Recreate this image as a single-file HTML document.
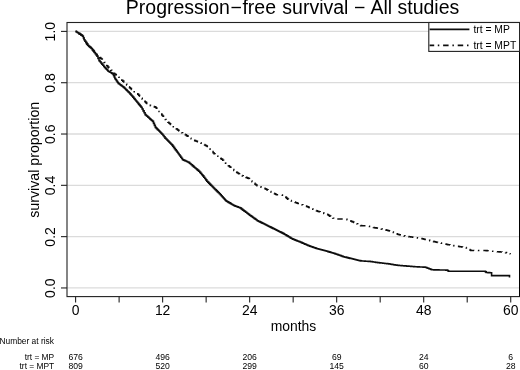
<!DOCTYPE html>
<html><head><meta charset="utf-8"><title>PFS</title>
<style>
html,body{margin:0;padding:0;background:#fff;}
body{width:520px;height:370px;overflow:hidden;}
svg{display:block;}
text{font-family:"Liberation Sans",sans-serif;fill:#000;}
</style></head><body>
<svg width="520" height="370" viewBox="0 0 520 370">
<defs><filter id="soft" filterUnits="userSpaceOnUse" x="-20" y="-20" width="560" height="410"><feGaussianBlur stdDeviation="0.35"/></filter></defs>
<rect x="-20" y="-20" width="560" height="410" fill="#fff"/>
<g filter="url(#soft)">
<rect x="-20" y="-20" width="560" height="410" fill="#fff"/>

<line x1="67" x2="519.6" y1="287.95" y2="287.95" stroke="#dbdbdb" stroke-width="1.3"/>
<line x1="67" x2="519.6" y1="236.64" y2="236.64" stroke="#dbdbdb" stroke-width="1.3"/>
<line x1="67" x2="519.6" y1="185.33" y2="185.33" stroke="#dbdbdb" stroke-width="1.3"/>
<line x1="67" x2="519.6" y1="134.02" y2="134.02" stroke="#dbdbdb" stroke-width="1.3"/>
<line x1="67" x2="519.6" y1="82.71" y2="82.71" stroke="#dbdbdb" stroke-width="1.3"/>
<line x1="67" x2="519.6" y1="31.4" y2="31.4" stroke="#dbdbdb" stroke-width="1.3"/>
<polyline points="75.50,31.40 76.38,31.40 76.38,31.95 77.25,31.95 77.25,32.50 78.12,32.50 78.12,33.05 79.00,33.05 79.00,33.60 79.95,33.60 79.95,34.25 80.90,34.25 80.90,34.90 81.85,34.90 81.85,35.55 82.80,35.55 82.80,36.20 83.40,36.20 83.40,38.00 84.00,38.00 84.00,39.80 84.90,39.80 84.90,41.17 85.80,41.17 85.80,42.55 86.70,42.55 86.70,43.92 87.60,43.92 87.60,45.30 88.60,45.30 88.60,46.17 89.60,46.17 89.60,47.05 90.60,47.05 90.60,47.92 91.60,47.92 91.60,48.80 92.50,48.80 92.50,49.92 93.40,49.92 93.40,51.03 94.30,51.03 94.30,52.15 95.20,52.15 95.20,53.27 96.10,53.27 96.10,54.38 97.00,54.38 97.00,55.50 97.88,55.50 97.88,56.20 98.76,56.20 98.76,56.90 99.64,56.90 99.64,57.60 100.52,57.60 100.52,58.30 101.40,58.30 101.40,59.00 102.30,59.00 102.30,60.13 103.20,60.13 103.20,61.27 104.10,61.27 104.10,62.40 105.00,62.40 105.00,63.53 105.90,63.53 105.90,64.67 106.80,64.67 106.80,65.80 107.80,65.80 107.80,66.93 108.80,66.93 108.80,68.07 109.80,68.07 109.80,69.20 110.80,69.20 110.80,70.33 111.80,70.33 111.80,71.47 112.80,71.47 112.80,72.60 113.67,72.60 113.67,73.27 114.54,73.27 114.54,73.94 115.41,73.94 115.41,74.61 116.29,74.61 116.29,75.29 117.16,75.29 117.16,75.96 118.03,75.96 118.03,76.63 118.90,76.63 118.90,77.30 119.87,77.30 119.87,78.26 120.84,78.26 120.84,79.21 121.81,79.21 121.81,80.17 122.79,80.17 122.79,81.13 123.76,81.13 123.76,82.09 124.73,82.09 124.73,83.04 125.70,83.04 125.70,84.00 126.66,84.00 126.66,84.91 127.61,84.91 127.61,85.83 128.57,85.83 128.57,86.74 129.53,86.74 129.53,87.66 130.49,87.66 130.49,88.57 131.44,88.57 131.44,89.49 132.40,89.49 132.40,90.40 133.30,90.40 133.30,91.05 134.20,91.05 134.20,91.70 135.10,91.70 135.10,92.35 136.00,92.35 136.00,93.00 136.90,93.00 136.90,93.65 137.80,93.65 137.80,94.30 138.68,94.30 138.68,95.28 139.57,95.28 139.57,96.27 140.45,96.27 140.45,97.25 141.33,97.25 141.33,98.23 142.22,98.23 142.22,99.22 143.10,99.22 143.10,100.20 144.00,100.20 144.00,101.00 144.90,101.00 144.90,101.80 145.80,101.80 145.80,102.60 146.70,102.60 146.70,103.40 147.60,103.40 147.60,104.20 148.50,104.20 148.50,105.00 149.47,105.00 149.47,105.31 150.44,105.31 150.44,105.63 151.41,105.63 151.41,105.94 152.39,105.94 152.39,106.26 153.36,106.26 153.36,106.57 154.33,106.57 154.33,106.89 155.30,106.89 155.30,107.20 156.24,107.20 156.24,108.28 157.18,108.28 157.18,109.36 158.12,109.36 158.12,110.44 159.06,110.44 159.06,111.52 160.00,111.52 160.00,112.60 160.87,112.60 160.87,113.76 161.74,113.76 161.74,114.91 162.61,114.91 162.61,116.07 163.49,116.07 163.49,117.23 164.36,117.23 164.36,118.39 165.23,118.39 165.23,119.54 166.10,119.54 166.10,120.70 167.00,120.70 167.00,121.44 167.90,121.44 167.90,122.19 168.80,122.19 168.80,122.93 169.70,122.93 169.70,123.68 170.60,123.68 170.60,124.42 171.50,124.42 171.50,125.17 172.40,125.17 172.40,125.91 173.30,125.91 173.30,126.66 174.20,126.66 174.20,127.40 175.15,127.40 175.15,128.10 176.10,128.10 176.10,128.80 177.05,128.80 177.05,129.50 178.00,129.50 178.00,130.20 178.95,130.20 178.95,130.90 179.90,130.90 179.90,131.60 180.80,131.60 180.80,132.13 181.70,132.13 181.70,132.67 182.60,132.67 182.60,133.20 183.50,133.20 183.50,133.73 184.40,133.73 184.40,134.27 185.30,134.27 185.30,134.80 186.26,134.80 186.26,135.47 187.21,135.47 187.21,136.14 188.17,136.14 188.17,136.81 189.13,136.81 189.13,137.49 190.09,137.49 190.09,138.16 191.04,138.16 191.04,138.83 192.00,138.83 192.00,139.50 192.90,139.50 192.90,139.87 193.80,139.87 193.80,140.23 194.70,140.23 194.70,140.60 195.60,140.60 195.60,140.97 196.50,140.97 196.50,141.33 197.40,141.33 197.40,141.70 198.30,141.70 198.30,142.07 199.20,142.07 199.20,142.43 200.10,142.43 200.10,142.80 201.00,142.80 201.00,143.26 201.90,143.26 201.90,143.71 202.80,143.71 202.80,144.17 203.70,144.17 203.70,144.62 204.60,144.62 204.60,145.08 205.50,145.08 205.50,145.53 206.40,145.53 206.40,145.99 207.30,145.99 207.30,146.44 208.20,146.44 208.20,146.90 209.17,146.90 209.17,148.06 210.14,148.06 210.14,149.21 211.11,149.21 211.11,150.37 212.09,150.37 212.09,151.53 213.06,151.53 213.06,152.69 214.03,152.69 214.03,153.84 215.00,153.84 215.00,155.00 215.97,155.00 215.97,155.61 216.94,155.61 216.94,156.23 217.91,156.23 217.91,156.84 218.89,156.84 218.89,157.46 219.86,157.46 219.86,158.07 220.83,158.07 220.83,158.69 221.80,158.69 221.80,159.30 222.73,159.30 222.73,160.25 223.67,160.25 223.67,161.20 224.60,161.20 224.60,162.15 225.53,162.15 225.53,163.10 226.47,163.10 226.47,164.05 227.40,164.05 227.40,165.00 228.31,165.00 228.31,165.77 229.23,165.77 229.23,166.54 230.14,166.54 230.14,167.31 231.06,167.31 231.06,168.09 231.97,168.09 231.97,168.86 232.89,168.86 232.89,169.63 233.80,169.63 233.80,170.40 234.76,170.40 234.76,171.07 235.71,171.07 235.71,171.74 236.67,171.74 236.67,172.41 237.63,172.41 237.63,173.09 238.59,173.09 238.59,173.76 239.54,173.76 239.54,174.43 240.50,174.43 240.50,175.10 241.40,175.10 241.40,175.48 242.30,175.48 242.30,175.86 243.20,175.86 243.20,176.23 244.10,176.23 244.10,176.61 245.00,176.61 245.00,176.99 245.90,176.99 245.90,177.37 246.80,177.37 246.80,177.74 247.70,177.74 247.70,178.12 248.60,178.12 248.60,178.50 249.45,178.50 249.45,179.30 250.30,179.30 250.30,180.10 251.15,180.10 251.15,180.90 252.00,180.90 252.00,181.70 253.00,181.70 253.00,182.52 254.00,182.52 254.00,183.34 255.00,183.34 255.00,184.16 256.00,184.16 256.00,184.98 257.00,184.98 257.00,185.80 258.00,185.80 258.00,186.16 259.00,186.16 259.00,186.51 260.00,186.51 260.00,186.87 261.00,186.87 261.00,187.23 262.00,187.23 262.00,187.59 263.00,187.59 263.00,187.94 264.00,187.94 264.00,188.30 265.00,188.30 265.00,188.82 266.00,188.82 266.00,189.33 267.00,189.33 267.00,189.85 268.00,189.85 268.00,190.37 269.00,190.37 269.00,190.88 270.00,190.88 270.00,191.40 270.90,191.40 270.90,191.87 271.80,191.87 271.80,192.34 272.70,192.34 272.70,192.81 273.60,192.81 273.60,193.29 274.50,193.29 274.50,193.76 275.40,193.76 275.40,194.23 276.30,194.23 276.30,194.70 277.30,194.70 277.30,194.77 278.30,194.77 278.30,194.84 279.30,194.84 279.30,194.91 280.30,194.91 280.30,194.99 281.30,194.99 281.30,195.06 282.30,195.06 282.30,195.13 283.30,195.13 283.30,195.20 284.15,195.20 284.15,195.98 285.00,195.98 285.00,196.77 285.85,196.77 285.85,197.55 286.70,197.55 286.70,198.33 287.55,198.33 287.55,199.12 288.40,199.12 288.40,199.90 289.37,199.90 289.37,200.27 290.33,200.27 290.33,200.63 291.30,200.63 291.30,201.00 292.27,201.00 292.27,201.37 293.23,201.37 293.23,201.73 294.20,201.73 294.20,202.10 295.17,202.10 295.17,202.47 296.13,202.47 296.13,202.83 297.10,202.83 297.10,203.20 298.06,203.20 298.06,203.51 299.01,203.51 299.01,203.82 299.97,203.82 299.97,204.13 300.92,204.13 300.92,204.44 301.88,204.44 301.88,204.76 302.83,204.76 302.83,205.07 303.79,205.07 303.79,205.38 304.74,205.38 304.74,205.69 305.70,205.69 305.70,206.00 306.58,206.00 306.58,206.42 307.47,206.42 307.47,206.83 308.35,206.83 308.35,207.25 309.23,207.25 309.23,207.67 310.12,207.67 310.12,208.08 311.00,208.08 311.00,208.50 311.90,208.50 311.90,208.89 312.80,208.89 312.80,209.27 313.70,209.27 313.70,209.66 314.60,209.66 314.60,210.04 315.50,210.04 315.50,210.43 316.40,210.43 316.40,210.81 317.30,210.81 317.30,211.20 318.25,211.20 318.25,211.52 319.19,211.52 319.19,211.84 320.14,211.84 320.14,212.15 321.08,212.15 321.08,212.47 322.03,212.47 322.03,212.79 322.97,212.79 322.97,213.11 323.92,213.11 323.92,213.43 324.86,213.43 324.86,213.75 325.81,213.75 325.81,214.06 326.75,214.06 326.75,214.38 327.70,214.38 327.70,214.70 328.70,214.70 328.70,215.42 329.70,215.42 329.70,216.13 330.70,216.13 330.70,216.85 331.70,216.85 331.70,217.57 332.70,217.57 332.70,218.28 333.70,218.28 333.70,219.00 345.00,219.00 345.99,219.00 345.99,219.37 346.97,219.37 346.97,219.74 347.96,219.74 347.96,220.11 348.94,220.11 348.94,220.49 349.93,220.49 349.93,220.86 350.91,220.86 350.91,221.23 351.90,221.23 351.90,221.60 352.87,221.60 352.87,222.04 353.83,222.04 353.83,222.49 354.80,222.49 354.80,222.93 355.77,222.93 355.77,223.38 356.73,223.38 356.73,223.82 357.70,223.82 357.70,224.27 358.67,224.27 358.67,224.71 359.63,224.71 359.63,225.16 360.60,225.16 360.60,225.60 361.59,225.60 361.59,225.66 362.57,225.66 362.57,225.71 363.56,225.71 363.56,225.77 364.54,225.77 364.54,225.83 365.53,225.83 365.53,225.89 366.51,225.89 366.51,225.94 367.50,225.94 367.50,226.00 368.49,226.00 368.49,226.24 369.47,226.24 369.47,226.49 370.46,226.49 370.46,226.73 371.44,226.73 371.44,226.97 372.43,226.97 372.43,227.21 373.41,227.21 373.41,227.46 374.40,227.46 374.40,227.70 375.38,227.70 375.38,227.89 376.36,227.89 376.36,228.08 377.33,228.08 377.33,228.27 378.31,228.27 378.31,228.46 379.29,228.46 379.29,228.64 380.27,228.64 380.27,228.83 381.24,228.83 381.24,229.02 382.22,229.02 382.22,229.21 383.20,229.21 383.20,229.40 384.10,229.40 384.10,229.62 385.00,229.62 385.00,229.85 385.90,229.85 385.90,230.07 386.80,230.07 386.80,230.30 387.70,230.30 387.70,230.53 388.60,230.53 388.60,230.75 389.50,230.75 389.50,230.97 390.40,230.97 390.40,231.20 391.39,231.20 391.39,231.63 392.37,231.63 392.37,232.06 393.36,232.06 393.36,232.49 394.34,232.49 394.34,232.91 395.33,232.91 395.33,233.34 396.31,233.34 396.31,233.77 397.30,233.77 397.30,234.20 398.27,234.20 398.27,234.44 399.23,234.44 399.23,234.69 400.20,234.69 400.20,234.93 401.17,234.93 401.17,235.18 402.13,235.18 402.13,235.42 403.10,235.42 403.10,235.67 404.07,235.67 404.07,235.91 405.03,235.91 405.03,236.16 406.00,236.16 406.00,236.40 406.96,236.40 406.96,236.50 407.91,236.50 407.91,236.60 408.87,236.60 408.87,236.70 409.82,236.70 409.82,236.80 410.78,236.80 410.78,236.90 411.73,236.90 411.73,237.00 412.69,237.00 412.69,237.10 413.64,237.10 413.64,237.20 414.60,237.20 414.60,237.30 415.55,237.30 415.55,237.49 416.49,237.49 416.49,237.68 417.44,237.68 417.44,237.87 418.38,237.87 418.38,238.06 419.33,238.06 419.33,238.25 420.27,238.25 420.27,238.45 421.22,238.45 421.22,238.64 422.16,238.64 422.16,238.83 423.11,238.83 423.11,239.02 424.05,239.02 424.05,239.21 425.00,239.21 425.00,239.40 425.96,239.40 425.96,239.64 426.91,239.64 426.91,239.89 427.87,239.89 427.87,240.13 428.82,240.13 428.82,240.38 429.78,240.38 429.78,240.62 430.73,240.62 430.73,240.87 431.69,240.87 431.69,241.11 432.64,241.11 432.64,241.36 433.60,241.36 433.60,241.60 434.57,241.60 434.57,241.81 435.53,241.81 435.53,242.02 436.50,242.02 436.50,242.23 437.47,242.23 437.47,242.44 438.43,242.44 438.43,242.66 439.40,242.66 439.40,242.87 440.37,242.87 440.37,243.08 441.33,243.08 441.33,243.29 442.30,243.29 442.30,243.50 443.25,243.50 443.25,243.69 444.19,243.69 444.19,243.88 445.14,243.88 445.14,244.07 446.08,244.07 446.08,244.26 447.03,244.26 447.03,244.45 447.97,244.45 447.97,244.65 448.92,244.65 448.92,244.84 449.86,244.84 449.86,245.03 450.81,245.03 450.81,245.22 451.75,245.22 451.75,245.41 452.70,245.41 452.70,245.60 453.69,245.60 453.69,245.76 454.68,245.76 454.68,245.91 455.67,245.91 455.67,246.07 456.66,246.07 456.66,246.22 457.64,246.22 457.64,246.38 458.63,246.38 458.63,246.53 459.62,246.53 459.62,246.69 460.61,246.69 460.61,246.84 461.60,246.84 461.60,247.00 462.55,247.00 462.55,247.12 463.50,247.12 463.50,247.25 464.45,247.25 464.45,247.38 465.40,247.38 465.40,247.50 466.30,247.50 466.30,247.98 467.20,247.98 467.20,248.47 468.10,248.47 468.10,248.95 469.00,248.95 469.00,249.43 469.90,249.43 469.90,249.92 470.80,249.92 470.80,250.40 471.76,250.40 471.76,250.41 472.73,250.41 472.73,250.43 473.69,250.43 473.69,250.44 474.65,250.44 474.65,250.45 475.61,250.45 475.61,250.46 476.57,250.46 476.57,250.47 477.54,250.47 477.54,250.49 478.50,250.49 478.50,250.50 479.46,250.50 479.46,250.51 480.43,250.51 480.43,250.53 481.39,250.53 481.39,250.54 482.35,250.54 482.35,250.55 483.31,250.55 483.31,250.56 484.27,250.56 484.27,250.57 485.24,250.57 485.24,250.59 486.20,250.59 486.20,250.60 487.13,250.60 487.13,250.70 488.06,250.70 488.06,250.80 488.99,250.80 488.99,250.90 489.92,250.90 489.92,251.00 490.85,251.00 490.85,251.10 491.78,251.10 491.78,251.20 492.71,251.20 492.71,251.30 493.64,251.30 493.64,251.40 494.57,251.40 494.57,251.50 495.50,251.50 495.50,251.60 496.42,251.60 496.42,251.67 497.34,251.67 497.34,251.74 498.26,251.74 498.26,251.81 499.18,251.81 499.18,251.88 500.10,251.88 500.10,251.95 501.02,251.95 501.02,252.02 501.94,252.02 501.94,252.09 502.86,252.09 502.86,252.16 503.78,252.16 503.78,252.23 504.70,252.23 504.70,252.30 505.60,252.30 505.60,252.62 506.50,252.62 506.50,252.93 507.40,252.93 507.40,253.25 508.30,253.25 508.30,253.57 509.20,253.57 509.20,253.88 510.10,253.88 510.10,254.20" fill="none" stroke="#111" stroke-width="1.55" stroke-dasharray="1.4 4 5.4 4" stroke-linejoin="miter"/>
<polyline points="75.50,31.40 76.38,31.40 76.38,31.95 77.25,31.95 77.25,32.50 78.12,32.50 78.12,33.05 79.00,33.05 79.00,33.60 79.95,33.60 79.95,34.25 80.90,34.25 80.90,34.90 81.85,34.90 81.85,35.55 82.80,35.55 82.80,36.20 83.40,36.20 83.40,38.00 84.00,38.00 84.00,39.80 84.90,39.80 84.90,41.17 85.80,41.17 85.80,42.55 86.70,42.55 86.70,43.92 87.60,43.92 87.60,45.30 88.60,45.30 88.60,46.17 89.60,46.17 89.60,47.05 90.60,47.05 90.60,47.92 91.60,47.92 91.60,48.80 92.50,48.80 92.50,50.02 93.40,50.02 93.40,51.23 94.30,51.23 94.30,52.45 95.20,52.45 95.20,53.67 96.10,53.67 96.10,54.88 97.00,54.88 97.00,56.10 98.00,56.10 98.00,58.35 99.00,58.35 99.00,60.60 99.96,60.60 99.96,61.78 100.92,61.78 100.92,62.96 101.88,62.96 101.88,64.14 102.84,64.14 102.84,65.32 103.80,65.32 103.80,66.50 104.66,66.50 104.66,67.44 105.52,67.44 105.52,68.38 106.38,68.38 106.38,69.32 107.24,69.32 107.24,70.26 108.10,70.26 108.10,71.20 109.04,71.20 109.04,71.74 109.98,71.74 109.98,72.28 110.92,72.28 110.92,72.82 111.86,72.82 111.86,73.36 112.80,73.36 112.80,73.90 113.50,73.90 113.50,75.47 114.20,75.47 114.20,77.03 114.90,77.03 114.90,78.60 115.73,78.60 115.73,79.80 116.55,79.80 116.55,81.00 117.38,81.00 117.38,82.20 118.20,82.20 118.20,83.40 119.10,83.40 119.10,84.07 120.00,84.07 120.00,84.73 120.90,84.73 120.90,85.40 121.80,85.40 121.80,86.07 122.70,86.07 122.70,86.73 123.60,86.73 123.60,87.40 124.50,87.40 124.50,88.30 125.40,88.30 125.40,89.20 126.30,89.20 126.30,90.10 127.20,90.10 127.20,91.00 128.10,91.00 128.10,91.90 129.00,91.90 129.00,92.80 129.96,92.80 129.96,93.88 130.92,93.88 130.92,94.96 131.88,94.96 131.88,96.04 132.84,96.04 132.84,97.12 133.80,97.12 133.80,98.20 134.53,98.20 134.53,99.13 135.27,99.13 135.27,100.07 136.00,100.07 136.00,101.00 136.85,101.00 136.85,102.03 137.70,102.03 137.70,103.07 138.55,103.07 138.55,104.10 139.40,104.10 139.40,105.13 140.25,105.13 140.25,106.17 141.10,106.17 141.10,107.20 142.10,107.20 142.10,109.05 143.10,109.05 143.10,110.90 144.10,110.90 144.10,112.75 145.10,112.75 145.10,114.60 146.04,114.60 146.04,115.45 146.97,115.45 146.97,116.30 147.91,116.30 147.91,117.15 148.85,117.15 148.85,118.00 149.79,118.00 149.79,118.85 150.72,118.85 150.72,119.70 151.66,119.70 151.66,120.55 152.60,120.55 152.60,121.40 153.50,121.40 153.50,123.40 154.40,123.40 154.40,125.40 155.30,125.40 155.30,127.40 156.26,127.40 156.26,128.37 157.21,128.37 157.21,129.34 158.17,129.34 158.17,130.31 159.13,130.31 159.13,131.29 160.09,131.29 160.09,132.26 161.04,132.26 161.04,133.23 162.00,133.23 162.00,134.20 163.00,134.20 163.00,135.50 164.00,135.50 164.00,136.80 165.00,136.80 165.00,138.10 165.97,138.10 165.97,139.07 166.94,139.07 166.94,140.04 167.91,140.04 167.91,141.01 168.89,141.01 168.89,141.99 169.86,141.99 169.86,142.96 170.83,142.96 170.83,143.93 171.80,143.93 171.80,144.90 172.70,144.90 172.70,146.13 173.60,146.13 173.60,147.37 174.50,147.37 174.50,148.60 175.40,148.60 175.40,149.83 176.30,149.83 176.30,151.07 177.20,151.07 177.20,152.30 178.10,152.30 178.10,153.53 179.00,153.53 179.00,154.77 179.90,154.77 179.90,156.00 180.80,156.00 180.80,157.23 181.70,157.23 181.70,158.47 182.60,158.47 182.60,159.70 183.60,159.70 183.60,160.15 184.60,160.15 184.60,160.60 185.60,160.60 185.60,161.05 186.60,161.05 186.60,161.50 187.60,161.50 187.60,161.95 188.60,161.95 188.60,162.40 189.52,162.40 189.52,163.20 190.43,163.20 190.43,164.00 191.35,164.00 191.35,164.80 192.27,164.80 192.27,165.60 193.18,165.60 193.18,166.40 194.10,166.40 194.10,167.20 195.04,167.20 195.04,168.00 195.98,168.00 195.98,168.80 196.92,168.80 196.92,169.60 197.86,169.60 197.86,170.40 198.80,170.40 198.80,171.20 199.80,171.20 199.80,172.38 200.80,172.38 200.80,173.55 201.80,173.55 201.80,174.72 202.80,174.72 202.80,175.90 203.80,175.90 203.80,177.22 204.80,177.22 204.80,178.55 205.80,178.55 205.80,179.88 206.80,179.88 206.80,181.20 207.76,181.20 207.76,182.17 208.71,182.17 208.71,183.14 209.67,183.14 209.67,184.11 210.63,184.11 210.63,185.09 211.59,185.09 211.59,186.06 212.54,186.06 212.54,187.03 213.50,187.03 213.50,188.00 214.47,188.00 214.47,188.96 215.44,188.96 215.44,189.91 216.41,189.91 216.41,190.87 217.39,190.87 217.39,191.83 218.36,191.83 218.36,192.79 219.33,192.79 219.33,193.74 220.30,193.74 220.30,194.70 221.20,194.70 221.20,195.72 222.10,195.72 222.10,196.73 223.00,196.73 223.00,197.75 223.90,197.75 223.90,198.77 224.80,198.77 224.80,199.78 225.70,199.78 225.70,200.80 226.60,200.80 226.60,201.32 227.50,201.32 227.50,201.84 228.40,201.84 228.40,202.37 229.30,202.37 229.30,202.89 230.20,202.89 230.20,203.41 231.10,203.41 231.10,203.93 232.00,203.93 232.00,204.46 232.90,204.46 232.90,204.98 233.80,204.98 233.80,205.50 234.69,205.50 234.69,205.84 235.57,205.84 235.57,206.19 236.46,206.19 236.46,206.53 237.34,206.53 237.34,206.87 238.23,206.87 238.23,207.21 239.11,207.21 239.11,207.56 240.00,207.56 240.00,207.90 240.97,207.90 240.97,208.63 241.93,208.63 241.93,209.37 242.90,209.37 242.90,210.10 243.87,210.10 243.87,210.83 244.83,210.83 244.83,211.57 245.80,211.57 245.80,212.30 246.77,212.30 246.77,213.03 247.73,213.03 247.73,213.77 248.70,213.77 248.70,214.50 249.66,214.50 249.66,215.19 250.61,215.19 250.61,215.88 251.57,215.88 251.57,216.57 252.52,216.57 252.52,217.26 253.48,217.26 253.48,217.94 254.43,217.94 254.43,218.63 255.39,218.63 255.39,219.32 256.34,219.32 256.34,220.01 257.30,220.01 257.30,220.70 258.27,220.70 258.27,221.18 259.23,221.18 259.23,221.66 260.20,221.66 260.20,222.13 261.17,222.13 261.17,222.61 262.13,222.61 262.13,223.09 263.10,223.09 263.10,223.57 264.07,223.57 264.07,224.04 265.03,224.04 265.03,224.52 266.00,224.52 266.00,225.00 266.96,225.00 266.96,225.48 267.91,225.48 267.91,225.96 268.87,225.96 268.87,226.43 269.82,226.43 269.82,226.91 270.78,226.91 270.78,227.39 271.73,227.39 271.73,227.87 272.69,227.87 272.69,228.34 273.64,228.34 273.64,228.82 274.60,228.82 274.60,229.30 275.57,229.30 275.57,229.78 276.53,229.78 276.53,230.26 277.50,230.26 277.50,230.73 278.47,230.73 278.47,231.21 279.43,231.21 279.43,231.69 280.40,231.69 280.40,232.17 281.37,232.17 281.37,232.64 282.33,232.64 282.33,233.12 283.30,233.12 283.30,233.60 284.26,233.60 284.26,234.18 285.21,234.18 285.21,234.76 286.17,234.76 286.17,235.33 287.12,235.33 287.12,235.91 288.08,235.91 288.08,236.49 289.03,236.49 289.03,237.07 289.99,237.07 289.99,237.64 290.94,237.64 290.94,238.22 291.90,238.22 291.90,238.80 292.80,238.80 292.80,239.16 293.70,239.16 293.70,239.51 294.60,239.51 294.60,239.87 295.50,239.87 295.50,240.22 296.40,240.22 296.40,240.58 297.30,240.58 297.30,240.93 298.20,240.93 298.20,241.29 299.10,241.29 299.10,241.64 300.00,241.64 300.00,242.00 300.97,242.00 300.97,242.42 301.93,242.42 301.93,242.84 302.90,242.84 302.90,243.27 303.87,243.27 303.87,243.69 304.83,243.69 304.83,244.11 305.80,244.11 305.80,244.53 306.77,244.53 306.77,244.96 307.73,244.96 307.73,245.38 308.70,245.38 308.70,245.80 309.66,245.80 309.66,246.13 310.61,246.13 310.61,246.47 311.57,246.47 311.57,246.80 312.52,246.80 312.52,247.13 313.48,247.13 313.48,247.47 314.43,247.47 314.43,247.80 315.39,247.80 315.39,248.13 316.34,248.13 316.34,248.47 317.30,248.47 317.30,248.80 318.27,248.80 318.27,249.04 319.23,249.04 319.23,249.29 320.20,249.29 320.20,249.53 321.17,249.53 321.17,249.78 322.13,249.78 322.13,250.02 323.10,250.02 323.10,250.27 324.07,250.27 324.07,250.51 325.03,250.51 325.03,250.76 326.00,250.76 326.00,251.00 326.96,251.00 326.96,251.29 327.91,251.29 327.91,251.58 328.87,251.58 328.87,251.87 329.82,251.87 329.82,252.16 330.78,252.16 330.78,252.44 331.73,252.44 331.73,252.73 332.69,252.73 332.69,253.02 333.64,253.02 333.64,253.31 334.60,253.31 334.60,253.60 335.57,253.60 335.57,253.94 336.53,253.94 336.53,254.29 337.50,254.29 337.50,254.63 338.47,254.63 338.47,254.98 339.43,254.98 339.43,255.32 340.40,255.32 340.40,255.67 341.37,255.67 341.37,256.01 342.33,256.01 342.33,256.36 343.30,256.36 343.30,256.70 344.26,256.70 344.26,256.93 345.21,256.93 345.21,257.17 346.17,257.17 346.17,257.40 347.12,257.40 347.12,257.63 348.08,257.63 348.08,257.87 349.03,257.87 349.03,258.10 349.99,258.10 349.99,258.33 350.94,258.33 350.94,258.57 351.90,258.57 351.90,258.80 352.87,258.80 352.87,259.03 353.83,259.03 353.83,259.27 354.80,259.27 354.80,259.50 355.77,259.50 355.77,259.73 356.73,259.73 356.73,259.97 357.70,259.97 357.70,260.20 358.67,260.20 358.67,260.43 359.63,260.43 359.63,260.67 360.60,260.67 360.60,260.90 361.56,260.90 361.56,260.96 362.51,260.96 362.51,261.01 363.47,261.01 363.47,261.07 364.42,261.07 364.42,261.12 365.38,261.12 365.38,261.18 366.33,261.18 366.33,261.23 367.29,261.23 367.29,261.29 368.24,261.29 368.24,261.34 369.20,261.34 369.20,261.40 370.17,261.40 370.17,261.53 371.13,261.53 371.13,261.67 372.10,261.67 372.10,261.80 373.07,261.80 373.07,261.93 374.03,261.93 374.03,262.07 375.00,262.07 375.00,262.20 375.97,262.20 375.97,262.33 376.93,262.33 376.93,262.47 377.90,262.47 377.90,262.60 378.88,262.60 378.88,262.72 379.86,262.72 379.86,262.84 380.85,262.84 380.85,262.95 381.83,262.95 381.83,263.07 382.81,263.07 382.81,263.19 383.79,263.19 383.79,263.31 384.77,263.31 384.77,263.43 385.75,263.43 385.75,263.55 386.74,263.55 386.74,263.66 387.72,263.66 387.72,263.78 388.70,263.78 388.70,263.90 389.66,263.90 389.66,264.06 390.61,264.06 390.61,264.21 391.57,264.21 391.57,264.37 392.52,264.37 392.52,264.52 393.48,264.52 393.48,264.68 394.43,264.68 394.43,264.83 395.39,264.83 395.39,264.99 396.34,264.99 396.34,265.14 397.30,265.14 397.30,265.30 398.27,265.30 398.27,265.38 399.23,265.38 399.23,265.46 400.20,265.46 400.20,265.53 401.17,265.53 401.17,265.61 402.13,265.61 402.13,265.69 403.10,265.69 403.10,265.77 404.07,265.77 404.07,265.84 405.03,265.84 405.03,265.92 406.00,265.92 406.00,266.00 406.96,266.00 406.96,266.08 407.91,266.08 407.91,266.16 408.87,266.16 408.87,266.23 409.82,266.23 409.82,266.31 410.78,266.31 410.78,266.39 411.73,266.39 411.73,266.47 412.69,266.47 412.69,266.54 413.64,266.54 413.64,266.62 414.60,266.62 414.60,266.70 415.55,266.70 415.55,266.75 416.49,266.75 416.49,266.79 417.44,266.79 417.44,266.84 418.38,266.84 418.38,266.88 419.33,266.88 419.33,266.93 420.27,266.93 420.27,266.97 421.22,266.97 421.22,267.02 422.16,267.02 422.16,267.06 423.11,267.06 423.11,267.11 424.05,267.11 424.05,267.15 425.00,267.15 425.00,267.20 425.99,267.20 425.99,267.57 426.97,267.57 426.97,267.94 427.96,267.94 427.96,268.31 428.94,268.31 428.94,268.69 429.93,268.69 429.93,269.06 430.91,269.06 430.91,269.43 431.90,269.43 431.90,269.80 432.90,269.80 432.90,269.82 433.90,269.82 433.90,269.84 434.90,269.84 434.90,269.86 435.90,269.86 435.90,269.88 436.90,269.88 436.90,269.90 437.90,269.90 437.90,269.92 438.90,269.92 438.90,269.94 439.90,269.94 439.90,269.96 440.90,269.96 440.90,269.98 441.90,269.98 441.90,270.00 442.90,270.00 442.90,270.02 443.90,270.02 443.90,270.04 444.90,270.04 444.90,270.06 445.90,270.06 445.90,270.08 446.90,270.08 446.90,270.10 447.70,270.10 447.70,270.70 448.50,270.70 448.50,271.30 484.70,271.30 485.45,271.30 485.45,271.90 486.20,271.90 486.20,272.50 487.10,272.50 487.10,272.55 488.00,272.55 488.00,272.60 488.90,272.60 488.90,272.65 489.80,272.65 489.80,272.70 490.70,272.70 490.70,272.75 491.60,272.75 491.60,272.80 491.60,275.60 509.50,275.60 509.50,277.60" fill="none" stroke="#111" stroke-width="1.6" stroke-linejoin="miter"/>
<rect x="67" y="22.5" width="452.6" height="274.1" fill="none" stroke="#222" stroke-width="1.1"/>
<line x1="519.9" x2="519.9" y1="22.5" y2="296.6" stroke="#000" stroke-width="1.6"/>
<line x1="61" x2="67" y1="287.95" y2="287.95" stroke="#222" stroke-width="1.1"/>
<text transform="translate(54.6,288.15) rotate(-90)" text-anchor="middle" font-size="14.1">0.0</text>
<line x1="61" x2="67" y1="236.64" y2="236.64" stroke="#222" stroke-width="1.1"/>
<text transform="translate(54.6,236.84) rotate(-90)" text-anchor="middle" font-size="14.1">0.2</text>
<line x1="61" x2="67" y1="185.33" y2="185.33" stroke="#222" stroke-width="1.1"/>
<text transform="translate(54.6,185.53) rotate(-90)" text-anchor="middle" font-size="14.1">0.4</text>
<line x1="61" x2="67" y1="134.02" y2="134.02" stroke="#222" stroke-width="1.1"/>
<text transform="translate(54.6,134.22) rotate(-90)" text-anchor="middle" font-size="14.1">0.6</text>
<line x1="61" x2="67" y1="82.71" y2="82.71" stroke="#222" stroke-width="1.1"/>
<text transform="translate(54.6,82.91) rotate(-90)" text-anchor="middle" font-size="14.1">0.8</text>
<line x1="61" x2="67" y1="31.4" y2="31.4" stroke="#222" stroke-width="1.1"/>
<text transform="translate(54.6,31.6) rotate(-90)" text-anchor="middle" font-size="14.1">1.0</text>
<line x1="75.6" x2="75.6" y1="296.6" y2="302.5" stroke="#222" stroke-width="1.1"/>
<line x1="119.112" x2="119.112" y1="296.6" y2="302.5" stroke="#222" stroke-width="1.1"/>
<line x1="162.624" x2="162.624" y1="296.6" y2="302.5" stroke="#222" stroke-width="1.1"/>
<line x1="206.136" x2="206.136" y1="296.6" y2="302.5" stroke="#222" stroke-width="1.1"/>
<line x1="249.648" x2="249.648" y1="296.6" y2="302.5" stroke="#222" stroke-width="1.1"/>
<line x1="293.16" x2="293.16" y1="296.6" y2="302.5" stroke="#222" stroke-width="1.1"/>
<line x1="336.672" x2="336.672" y1="296.6" y2="302.5" stroke="#222" stroke-width="1.1"/>
<line x1="380.184" x2="380.184" y1="296.6" y2="302.5" stroke="#222" stroke-width="1.1"/>
<line x1="423.696" x2="423.696" y1="296.6" y2="302.5" stroke="#222" stroke-width="1.1"/>
<line x1="467.208" x2="467.208" y1="296.6" y2="302.5" stroke="#222" stroke-width="1.1"/>
<line x1="510.72" x2="510.72" y1="296.6" y2="302.5" stroke="#222" stroke-width="1.1"/>
<text x="75.6" y="315" text-anchor="middle" font-size="13.9">0</text>
<text x="162.624" y="315" text-anchor="middle" font-size="13.9">12</text>
<text x="249.648" y="315" text-anchor="middle" font-size="13.9">24</text>
<text x="336.672" y="315" text-anchor="middle" font-size="13.9">36</text>
<text x="423.696" y="315" text-anchor="middle" font-size="13.9">48</text>
<text x="510.72" y="315" text-anchor="middle" font-size="13.9">60</text>
<text x="293.5" y="330.8" text-anchor="middle" font-size="13.9">months</text>
<text transform="translate(39.2,159.8) rotate(-90)" text-anchor="middle" font-size="14.2">survival proportion</text>
<text x="125.8" y="14.3" font-size="19.5">Progression</text>
<text x="230.5" y="14.3" font-size="19.5">−</text>
<text x="242.4" y="14.3" font-size="19.5">free</text>
<text x="282.3" y="14.3" font-size="19.5">survival</text>
<text x="354" y="14.3" font-size="19.5">−</text>
<text x="370.4" y="14.3" font-size="19.5">All</text>
<text x="397.5" y="14.3" font-size="19.5">studies</text>
<rect x="428.8" y="22.5" width="90.8" height="28.9" fill="#fff" stroke="#222" stroke-width="1.1"/>
<line x1="429.6" x2="469.4" y1="29.3" y2="29.3" stroke="#111" stroke-width="1.8"/>
<line x1="429.6" x2="469.4" y1="45.4" y2="45.4" stroke="#111" stroke-width="1.6" stroke-dasharray="4.6 3.6 1.5 3.8 5.5 3.8 1.5 3.8 5.5 3.8 1.5 3.8"/>
<text x="473.4" y="32.8" font-size="10.35">trt = MP</text>
<text x="473.4" y="48.7" font-size="10.35">trt = MPT</text>
<text x="-0.5" y="343.7" font-size="8.4">Number at risk</text>
<text x="54.2" y="359.8" text-anchor="end" font-size="8.4">trt = MP</text>
<text x="54.2" y="369.3" text-anchor="end" font-size="8.4">trt = MPT</text>
<text x="75.6" y="359.8" text-anchor="middle" font-size="8.65">676</text>
<text x="75.6" y="369.3" text-anchor="middle" font-size="8.65">809</text>
<text x="162.624" y="359.8" text-anchor="middle" font-size="8.65">496</text>
<text x="162.624" y="369.3" text-anchor="middle" font-size="8.65">520</text>
<text x="249.648" y="359.8" text-anchor="middle" font-size="8.65">206</text>
<text x="249.648" y="369.3" text-anchor="middle" font-size="8.65">299</text>
<text x="336.672" y="359.8" text-anchor="middle" font-size="8.65">69</text>
<text x="336.672" y="369.3" text-anchor="middle" font-size="8.65">145</text>
<text x="423.696" y="359.8" text-anchor="middle" font-size="8.65">24</text>
<text x="423.696" y="369.3" text-anchor="middle" font-size="8.65">60</text>
<text x="510.72" y="359.8" text-anchor="middle" font-size="8.65">6</text>
<text x="510.72" y="369.3" text-anchor="middle" font-size="8.65">28</text>
</g>
</svg>
</body></html>
